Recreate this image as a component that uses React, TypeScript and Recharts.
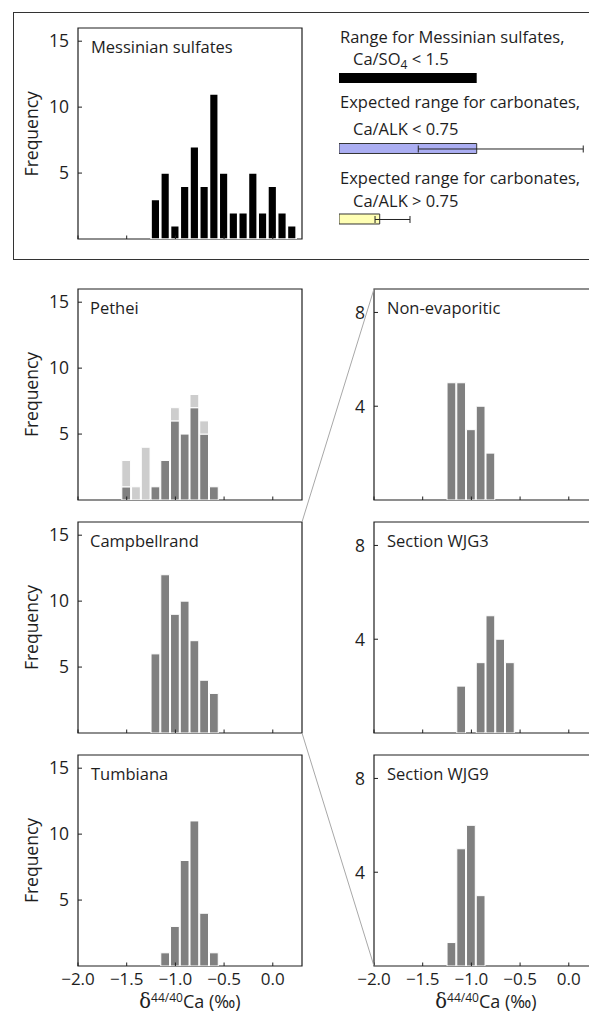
import React from 'react';
import { ComposedChart, Bar, XAxis, YAxis, ReferenceArea, Cell } from 'recharts';

const FONT = '"Open Sans", "Noto Sans", sans-serif';
const INK = '#1e1e1e';

// ---------- data ----------
const xTicks = [-2.0, -1.5, -1.0, -0.5, 0.0];
const xTickLabels = ['\u22122.0', '\u22121.5', '\u22121.0', '\u22120.5', '0.0'];
const freqTicksLeft = [5, 10, 15];
const freqTicksRight = [4, 8];

const messinianBins = [-1.2, -1.1, -1.0, -0.9, -0.8, -0.7, -0.6, -0.5, -0.4, -0.3, -0.2, -0.1, 0.0, 0.1, 0.2];
const messinianCounts = [3, 5, 1, 4, 7, 4, 11, 5, 2, 2, 5, 2, 4, 2, 1];

const petheiBins = [-1.5, -1.4, -1.3, -1.2, -1.1, -1.0, -0.9, -0.8, -0.7, -0.6];
const petheiMain = [1, 0, 0, 1, 3, 6, 5, 7, 5, 1];
const petheiExtra = [2, 1, 4, 0, 0, 1, 0, 1, 1, 0];

const campbellBins = [-1.2, -1.1, -1.0, -0.9, -0.8, -0.7, -0.6];
const campbellCounts = [6, 12, 9, 10, 7, 4, 3];

const tumbianaBins = [-1.1, -1.0, -0.9, -0.8, -0.7, -0.6];
const tumbianaCounts = [1, 3, 8, 11, 4, 1];

const nonEvapBins = [-1.2, -1.1, -1.0, -0.9, -0.8];
const nonEvapCounts = [5, 5, 3, 4, 2];

const wjg3Bins = [-1.1, -0.9, -0.8, -0.7, -0.6];
const wjg3Counts = [2, 3, 5, 4, 3];

const wjg9Bins = [-1.2, -1.1, -1.0, -0.9];
const wjg9Counts = [1, 5, 6, 3];

// legend range bars (in ‰ units)
const legendRows = ['sulfates', 'carbLow', 'carbHigh'];
const legendBoxes: [number, number][] = [[0, 1.414], [0, 1.414], [0, 0.418]];
const legendWhiskers: ([number, number] | null)[] = [null, [0.814, 2.508], [0.37, 0.729]];
const legendFills = ['#000000', '#abaef2', '#ffffb4'];
const legendStrokes = ['none', '#333333', '#333333'];

// ---------- layout ----------
const X_DOMAIN: [number, number] = [-2.0, 0.3];
const BIN = 0.1;
const PLOT_W = 224;
const PLOT_H = 211;
const PX_PER_UNIT = PLOT_W / (X_DOMAIN[1] - X_DOMAIN[0]);
const BAR_PX = BIN * PX_PER_UNIT;
const Y_AXIS_W = 78;
const M_TOP = 10;
const M_RIGHT = 4;
const X_AXIS_H = 40;

const LEFT_X = 78;
const RIGHT_X = 374;
const TOPS = [28.3, 289, 522, 755];

const XTick = (props: any) => {
  const { x, y, payload, showLabel } = props;
  const idx = xTicks.indexOf(payload.value);
  return (
    <g>
      <line x1={x} x2={x} y1={y} y2={y - 3.5} stroke={INK} strokeWidth={1} />
      {showLabel && (
        <text x={x} y={y + 19} textAnchor="middle" fontSize={17} fill={INK} fontFamily={FONT}>
          {idx >= 0 ? xTickLabels[idx] : payload.value}
        </text>
      )}
    </g>
  );
};

const YTick = (props: any) => {
  const { x, y, payload } = props;
  return (
    <g>
      <line x1={x} x2={x + 4} y1={y} y2={y} stroke={INK} strokeWidth={1} />
      <text x={x - 9} y={y + 6.3} textAnchor="end" fontSize={17.5} fill={INK} fontFamily={FONT}>
        {payload.value}
      </text>
    </g>
  );
};

type Series = { values: number[]; color: string; strokeW: number };

function Histogram(props: {
  plotLeft: number;
  plotTop: number;
  bins: number[];
  series: Series[];
  yMax: number;
  yTicks: number[];
  showXLabels: boolean;
}) {
  const { plotLeft, plotTop, bins, series, yMax, yTicks, showXLabels } = props;
  const data = bins.map((b, i) => {
    const r: any = { x: b };
    series.forEach((s, k) => (r['s' + k] = s.values[i]));
    return r;
  });
  const width = Y_AXIS_W + PLOT_W + M_RIGHT;
  const height = M_TOP + PLOT_H + X_AXIS_H;
  return (
    <div style={{ position: 'absolute', left: plotLeft - Y_AXIS_W, top: plotTop - M_TOP }}>
      <ComposedChart
        width={width}
        height={height}
        data={data}
        margin={{ top: M_TOP, right: M_RIGHT, bottom: 0, left: 0 }}
        barCategoryGap={0}
        barGap={0}
      >
        <XAxis
          type="number"
          dataKey="x"
          domain={X_DOMAIN}
          ticks={xTicks}
          allowDataOverflow
          interval={0}
          height={X_AXIS_H}
          axisLine={false}
          tickLine={false}
          tickSize={0}
          tickMargin={0}
          tick={(p: any) => <XTick {...p} showLabel={showXLabels} />}
        />
        <YAxis
          type="number"
          domain={[0, yMax]}
          ticks={yTicks}
          allowDataOverflow
          interval={0}
          width={Y_AXIS_W}
          axisLine={false}
          tickLine={false}
          tickSize={0}
          tickMargin={0}
          tick={(p: any) => <YTick {...p} />}
        />
        {series.map((s, k) => (
          <Bar
            key={k}
            dataKey={'s' + k}
            stackId="h"
            fill={s.color}
            stroke="#ffffff"
            strokeWidth={s.strokeW}
            barSize={BAR_PX}
            isAnimationActive={false}
          />
        ))}
        <ReferenceArea
          x1={X_DOMAIN[0]}
          x2={X_DOMAIN[1]}
          y1={0}
          y2={yMax}
          fill="none"
          fillOpacity={0}
          stroke={INK}
          strokeWidth={1.2}
          ifOverflow="visible"
        />
      </ComposedChart>
    </div>
  );
}

const Whisker = (props: any) => {
  const { x, y, width, height } = props;
  if (width == null || !isFinite(width)) return null;
  const cy = y + height / 2;
  return (
    <g stroke="#222" strokeWidth={1}>
      <line x1={x} x2={x + width} y1={cy} y2={cy} />
      <line x1={x} x2={x} y1={y} y2={y + height} />
      <line x1={x + width} x2={x + width} y1={y} y2={y + height} />
    </g>
  );
};

function LegendRanges() {
  const data = legendRows.map((r, i) => ({ row: r, box: legendBoxes[i], whisker: legendWhiskers[i] }));
  const legendDomain: [number, number] = [0, 2.6];
  const w = (legendDomain[1] - legendDomain[0]) * PX_PER_UNIT;
  const rowH = 70.5;
  const h = rowH * legendRows.length;
  return (
    <div style={{ position: 'absolute', left: 339, top: 43.4 }}>
      <ComposedChart layout="vertical" width={w} height={h} data={data} margin={{ top: 0, right: 0, bottom: 0, left: 0 }}>
        <XAxis type="number" domain={legendDomain} hide allowDataOverflow />
        <YAxis type="category" dataKey="row" hide yAxisId="b" />
        <YAxis type="category" dataKey="row" hide yAxisId="w" />
        <Bar dataKey="box" yAxisId="b" barSize={10} isAnimationActive={false}>
          {data.map((d, i) => (
            <Cell key={i} fill={legendFills[i]} stroke={legendStrokes[i]} strokeWidth={1} />
          ))}
        </Bar>
        <Bar dataKey="whisker" yAxisId="w" barSize={7} isAnimationActive={false} shape={(p: any) => <Whisker {...p} />} />
      </ComposedChart>
    </div>
  );
}

export default function App() {
  const titleStyle = { fontFamily: FONT, fontSize: 16.5, fill: INK } as any;
  const freqStyle = { fontFamily: FONT, fontSize: 17.5, fill: INK } as any;
  const legStyle = { fontFamily: FONT, fontSize: 16.5, fill: INK } as any;
  const leftPanels = [TOPS[0], TOPS[1], TOPS[2], TOPS[3]];
  return (
    <div
      style={{
        position: 'absolute',
        left: 0,
        top: 0,
        width: 589,
        height: 1014,
        overflow: 'hidden',
        background: '#fff',
      }}
    >
      {/* top frame */}
      <div
        style={{
          position: 'absolute',
          left: 13,
          top: 11.5,
          width: 620,
          height: 246,
          border: '1.3px solid #333',
        }}
      />

      <Histogram
        plotLeft={LEFT_X}
        plotTop={TOPS[0]}
        bins={messinianBins}
        series={[{ values: messinianCounts, color: '#000000', strokeW: 1.6 }]}
        yMax={16}
        yTicks={freqTicksLeft}
        showXLabels={false}
      />
      <Histogram
        plotLeft={LEFT_X}
        plotTop={TOPS[1]}
        bins={petheiBins}
        series={[
          { values: petheiMain, color: '#808080', strokeW: 1 },
          { values: petheiExtra, color: '#cdcdcd', strokeW: 1 },
        ]}
        yMax={16}
        yTicks={freqTicksLeft}
        showXLabels={false}
      />
      <Histogram
        plotLeft={LEFT_X}
        plotTop={TOPS[2]}
        bins={campbellBins}
        series={[{ values: campbellCounts, color: '#808080', strokeW: 1 }]}
        yMax={16}
        yTicks={freqTicksLeft}
        showXLabels={false}
      />
      <Histogram
        plotLeft={LEFT_X}
        plotTop={TOPS[3]}
        bins={tumbianaBins}
        series={[{ values: tumbianaCounts, color: '#808080', strokeW: 1 }]}
        yMax={16}
        yTicks={freqTicksLeft}
        showXLabels={true}
      />
      <Histogram
        plotLeft={RIGHT_X}
        plotTop={TOPS[1]}
        bins={nonEvapBins}
        series={[{ values: nonEvapCounts, color: '#808080', strokeW: 1 }]}
        yMax={9}
        yTicks={freqTicksRight}
        showXLabels={false}
      />
      <Histogram
        plotLeft={RIGHT_X}
        plotTop={TOPS[2]}
        bins={wjg3Bins}
        series={[{ values: wjg3Counts, color: '#808080', strokeW: 1 }]}
        yMax={9}
        yTicks={freqTicksRight}
        showXLabels={false}
      />
      <Histogram
        plotLeft={RIGHT_X}
        plotTop={TOPS[3]}
        bins={wjg9Bins}
        series={[{ values: wjg9Counts, color: '#808080', strokeW: 1 }]}
        yMax={9}
        yTicks={freqTicksRight}
        showXLabels={true}
      />

      <LegendRanges />

      <svg
        width={589}
        height={1014}
        style={{ position: 'absolute', left: 0, top: 0, pointerEvents: 'none' }}
      >
        {/* connector lines */}
        <line x1={LEFT_X + PLOT_W} y1={TOPS[2]} x2={RIGHT_X} y2={TOPS[1]} stroke="#a8a8a8" strokeWidth={1} />
        <line
          x1={LEFT_X + PLOT_W}
          y1={TOPS[2] + PLOT_H}
          x2={RIGHT_X}
          y2={TOPS[3] + PLOT_H}
          stroke="#a8a8a8"
          strokeWidth={1}
        />

        {/* panel titles */}
        <text x={LEFT_X + 13} y={TOPS[0] + 25} {...titleStyle}>Messinian sulfates</text>
        <text x={LEFT_X + 12} y={TOPS[1] + 25} {...titleStyle}>Pethei</text>
        <text x={LEFT_X + 12} y={TOPS[2] + 25} {...titleStyle}>Campbellrand</text>
        <text x={LEFT_X + 13} y={TOPS[3] + 25} {...titleStyle}>Tumbiana</text>
        <text x={RIGHT_X + 13} y={TOPS[1] + 25} {...titleStyle}>Non-evaporitic</text>
        <text x={RIGHT_X + 13} y={TOPS[2] + 25} {...titleStyle}>Section WJG3</text>
        <text x={RIGHT_X + 13} y={TOPS[3] + 25} {...titleStyle}>Section WJG9</text>

        {/* Frequency labels */}
        {leftPanels.map((t, i) => (
          <text
            key={i}
            x={0}
            y={0}
            transform={`translate(38, ${t + PLOT_H / 2}) rotate(-90)`}
            textAnchor="middle"
            {...freqStyle}
          >
            Frequency
          </text>
        ))}

        {/* x-axis titles */}
        {[LEFT_X, RIGHT_X].map((lx, i) => (
          <text key={i} x={lx + PLOT_W / 2} y={1007.5} textAnchor="middle" fontFamily={FONT} fontSize={18} fill={INK}>
            <tspan fontFamily='"DejaVu Serif", serif' fontSize={19.5}>δ</tspan>
            <tspan dy={-5.5} fontSize={12}>44/40</tspan>
            <tspan dy={5.5}>Ca (‰)</tspan>
          </text>
        ))}

        {/* legend text */}
        <text x={340} y={42.7} {...legStyle}>Range for Messinian sulfates,</text>
        <text x={353} y={65} {...legStyle}>
          Ca/SO<tspan dy={4} fontSize={12}>4</tspan>
          <tspan dy={-4}> &lt; 1.5</tspan>
        </text>
        <text x={340} y={108.3} {...legStyle}>Expected range for carbonates,</text>
        <text x={353} y={135} {...legStyle}>Ca/ALK &lt; 0.75</text>
        <text x={340} y={184} {...legStyle}>Expected range for carbonates,</text>
        <text x={353} y={206.7} {...legStyle}>Ca/ALK &gt; 0.75</text>
      </svg>
    </div>
  );
}
